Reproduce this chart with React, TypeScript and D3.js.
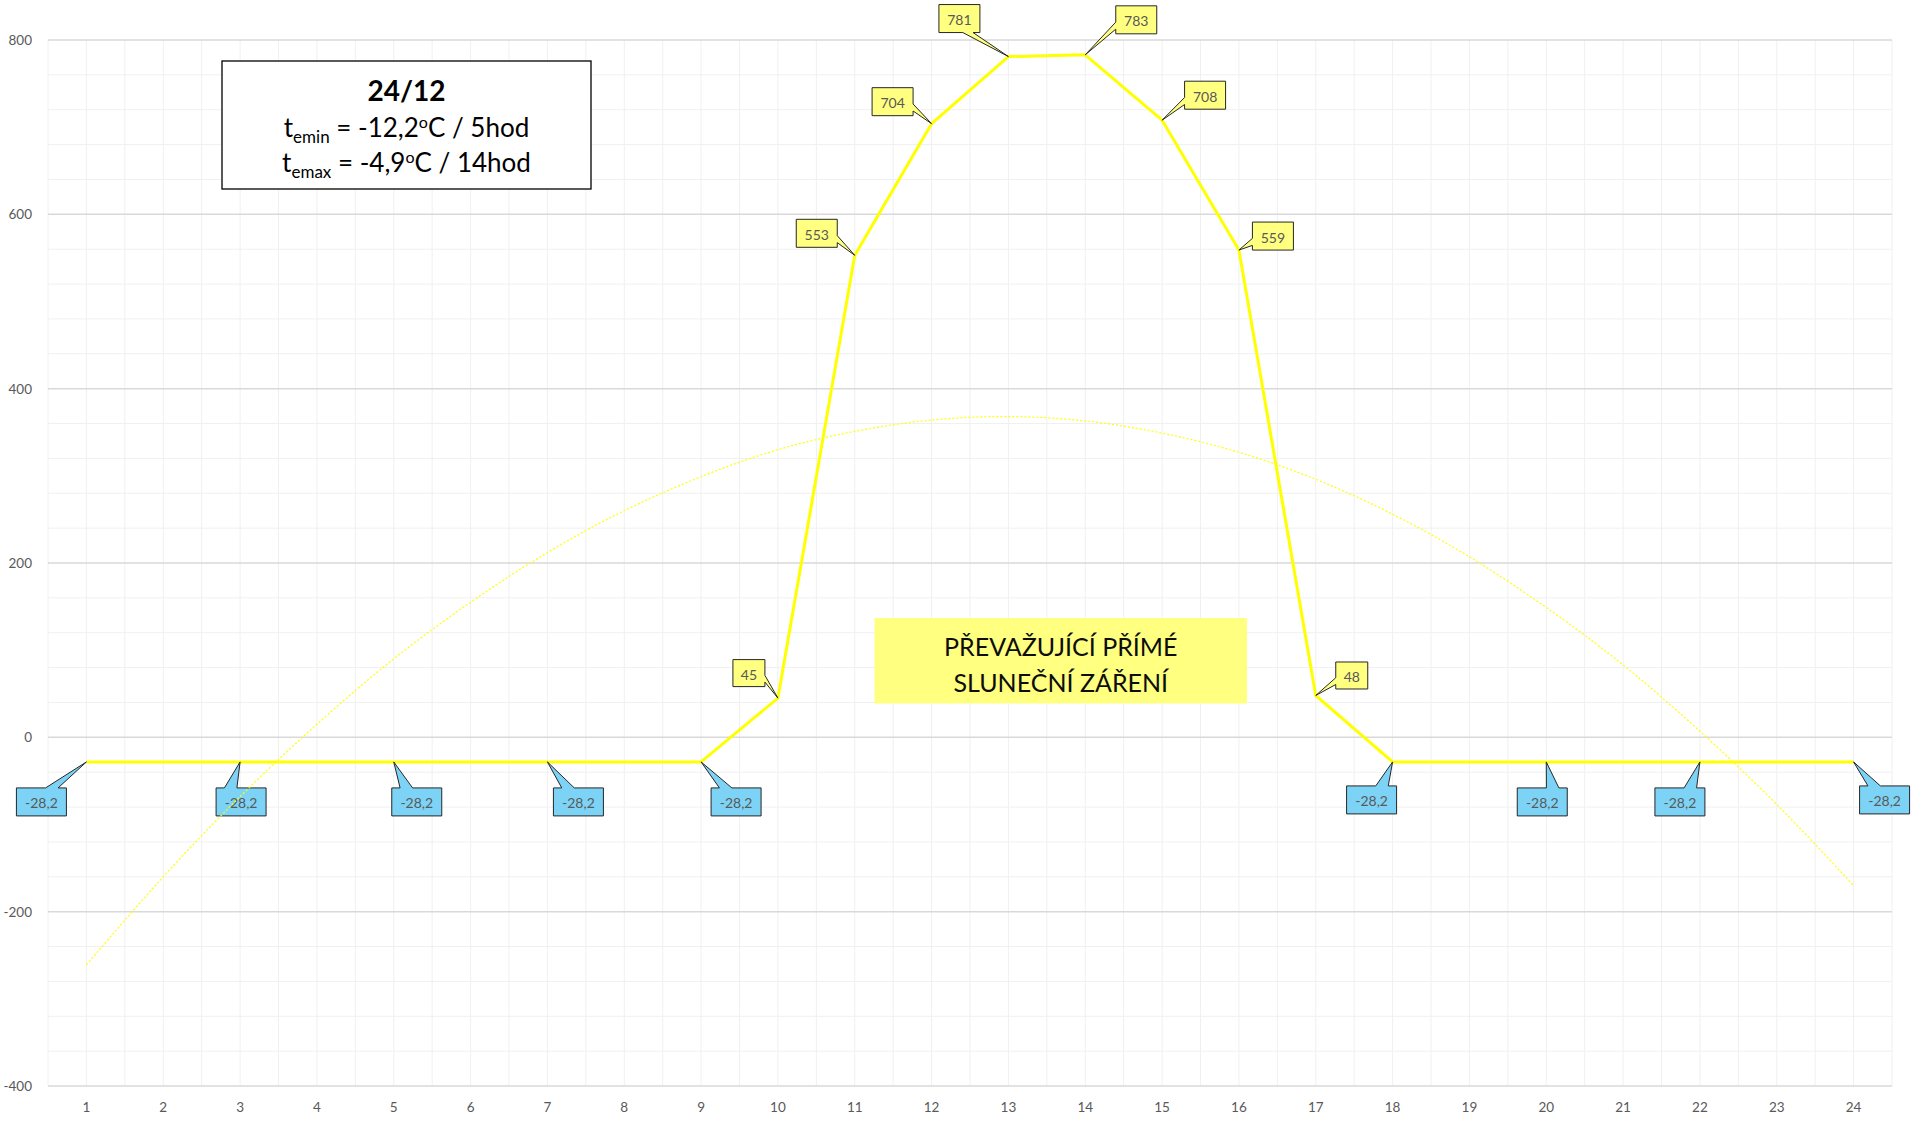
import React from "react";
import * as d3 from "d3";

// hour of day (24/12)
const hours = [1, 2, 3, 4, 5, 6, 7, 8, 9, 10, 11, 12, 13, 14, 15, 16, 17, 18, 19, 20, 21, 22, 23, 24];
// radiation W/m2
const radiation = [
  -28.2, -28.2, -28.2, -28.2, -28.2, -28.2, -28.2, -28.2, -28.2, 45, 553, 704,
  781, 783, 708, 559, 48, -28.2, -28.2, -28.2, -28.2, -28.2, -28.2, -28.2,
];
// dotted polynomial trendline
const trendline = [
  -261, -160, -68, 15, 90, 155, 212, 260, 299, 330, 351, 364,
  368, 363, 349, 327, 296, 256, 207, 149, 83, 7, -77, -170,
];
const labelledHours = [1, 3, 5, 7, 9, 10, 11, 12, 13, 14, 15, 16, 17, 18, 20, 22, 24];
const yTicks = [-400, -200, 0, 200, 400, 600, 800];

// where each data label box sits relative to its point
const calloutLayout: Record<number, { dx: number; dy: number; side: string }> = {
  1: { dx: -45, dy: 40, side: "top" },
  3: { dx: 1, dy: 40, side: "top" },
  5: { dx: 23, dy: 40, side: "top" },
  7: { dx: 31, dy: 40, side: "top" },
  9: { dx: 35, dy: 40, side: "top" },
  10: { dx: -29, dy: -25, side: "right" },
  11: { dx: -38, dy: -22, side: "right" },
  12: { dx: -39, dy: -22, side: "right" },
  13: { dx: -49, dy: -38, side: "bottom" },
  14: { dx: 51, dy: -35, side: "left" },
  15: { dx: 43, dy: -25, side: "left" },
  16: { dx: 34, dy: -14, side: "left" },
  17: { dx: 36, dy: -20, side: "left" },
  18: { dx: -21, dy: 38, side: "top" },
  20: { dx: -4, dy: 40, side: "top" },
  22: { dx: -20, dy: 40, side: "top" },
  24: { dx: 31, dy: 38, side: "top" },
};

const W = 1915;
const H = 1122;
const FONT = "Lato, 'Open Sans', sans-serif";
const AXIS_COLOR = "#595959";

function calloutPath(tx: number, ty: number, cx: number, cy: number, w: number, h: number, side: string) {
  const l = cx - w / 2, r = cx + w / 2, t = cy - h / 2, b = cy + h / 2;
  if (side === "top" || side === "bottom") {
    const f = tx >= cx ? [7 / 12, 10 / 12] : [2 / 12, 5 / 12];
    const b1 = l + w * f[0], b2 = l + w * f[1];
    if (side === "top")
      return `M${l},${t}L${b1},${t}L${tx},${ty}L${b2},${t}L${r},${t}L${r},${b}L${l},${b}Z`;
    return `M${l},${t}L${r},${t}L${r},${b}L${b2},${b}L${tx},${ty}L${b1},${b}L${l},${b}Z`;
  }
  const f = ty >= cy ? [7 / 12, 10 / 12] : [2 / 12, 5 / 12];
  const a1 = t + h * f[0], a2 = t + h * f[1];
  if (side === "right")
    return `M${l},${t}L${r},${t}L${r},${a1}L${tx},${ty}L${r},${a2}L${r},${b}L${l},${b}Z`;
  return `M${l},${t}L${r},${t}L${r},${b}L${l},${b}L${l},${a2}L${tx},${ty}L${l},${a1}Z`;
}

export default function App() {
  const x = d3.scaleLinear().domain([0.5, 24.5]).range([48, 1892]);
  const y = d3.scaleLinear().domain([-400, 800]).range([1086, 40]);

  const vGrid = d3.range(0.5, 24.51, 0.5);
  const hMinor = d3.range(-400, 801, 40).filter((v) => v % 200 !== 0);

  const mainLine = d3
    .line<number>()
    .x((_, i) => x(hours[i]))
    .y((d) => y(d))(radiation);
  const trendPath = d3
    .line<number>()
    .x((_, i) => x(hours[i]))
    .y((d) => y(d))
    .curve(d3.curveNatural)(trendline);

  const fmt = (v: number) => String(v).replace(".", ",");

  return (
    <div style={{ position: "absolute", left: 0, top: 0 }}>
      <svg width={W} height={H} style={{ display: "block", background: "#fff" }}>
        {/* grid */}
        <g>
          {hMinor.map((v) => (
            <line key={"hm" + v} x1={x(0.5)} x2={x(24.5)} y1={y(v)} y2={y(v)} stroke="#f0f0f0" strokeWidth={1} />
          ))}
          {vGrid.map((v) => (
            <line key={"v" + v} x1={x(v)} x2={x(v)} y1={y(800)} y2={y(-400)} stroke="#f0f0f0" strokeWidth={1} />
          ))}
          {yTicks.map((v) => (
            <line key={"h" + v} x1={x(0.5)} x2={x(24.5)} y1={y(v)} y2={y(v)} stroke="#d9d9d9" strokeWidth={1.5} />
          ))}
        </g>

        {/* axis labels */}
        <g fontFamily={FONT} fontSize={13.5} fill={AXIS_COLOR}>
          {yTicks.map((v) => (
            <text key={"yl" + v} x={32} y={y(v)} textAnchor="end" dominantBaseline="central">
              {v}
            </text>
          ))}
          {hours.map((h) => (
            <text key={"xl" + h} x={x(h)} y={1107} textAnchor="middle" dominantBaseline="central">
              {h}
            </text>
          ))}
        </g>

        {/* series */}
        <path d={mainLine ?? ""} fill="none" stroke="#ffff00" strokeWidth={3} strokeLinejoin="round" />

        {/* data labels */}
        <g fontFamily={FONT} fontSize={14} fill={AXIS_COLOR}>
          {labelledHours.map((h) => {
            const i = hours.indexOf(h);
            const v = radiation[i];
            const tx = x(h), ty = y(v);
            const lay = calloutLayout[h];
            const neg = v < 0;
            const text = fmt(v);
            const w = neg ? 50 : text.length > 2 ? 41 : 32;
            const hh = neg ? 28 : text.length > 2 ? 28 : 27;
            const cx = tx + lay.dx, cy = ty + lay.dy;
            return (
              <g key={"c" + h}>
                <path
                  d={calloutPath(tx, ty, cx, cy, w, hh, lay.side)}
                  fill={neg ? "#7dd3f5" : "#ffff80"}
                  stroke="#262626"
                  strokeWidth={1}
                />
                <text x={cx} y={cy + 1} textAnchor="middle" dominantBaseline="central">
                  {text}
                </text>
              </g>
            );
          })}
        </g>

        {/* trendline */}
        <path d={trendPath ?? ""} fill="none" stroke="#ffff00" strokeWidth={1.2} strokeDasharray="2 2" />

        {/* info box */}
        <g fontFamily={FONT} fill="#000">
          <rect x={222} y={61} width={369} height={128} fill="#fff" stroke="#000" strokeWidth={1.3} />
          <text x={406.5} y={101} textAnchor="middle" fontSize={28} fontWeight="bold">
            24/12
          </text>
          <text x={406.5} y={137} textAnchor="middle" fontSize={26}>
            <tspan>t</tspan>
            <tspan fontSize={17} dy={6}>emin</tspan>
            <tspan dy={-6}> = -12,2</tspan>
            <tspan fontSize={16} dy={-9}>o</tspan>
            <tspan dy={9}>C / 5hod</tspan>
          </text>
          <text x={406.5} y={172} textAnchor="middle" fontSize={26}>
            <tspan>t</tspan>
            <tspan fontSize={17} dy={6}>emax</tspan>
            <tspan dy={-6}> = -4,9</tspan>
            <tspan fontSize={16} dy={-9}>o</tspan>
            <tspan dy={9}>C / 14hod</tspan>
          </text>
        </g>

        {/* note box */}
        <g fontFamily={FONT} fill="#0d0d0d">
          <rect x={874.5} y={618} width={372.5} height={85.5} fill="#ffff80" />
          <text x={1060.8} y={646} textAnchor="middle" dominantBaseline="central" fontSize={25}>
            PŘEVAŽUJÍCÍ PŘÍMÉ
          </text>
          <text x={1060.8} y={681.5} textAnchor="middle" dominantBaseline="central" fontSize={25}>
            SLUNEČNÍ ZÁŘENÍ
          </text>
        </g>
      </svg>
    </div>
  );
}
